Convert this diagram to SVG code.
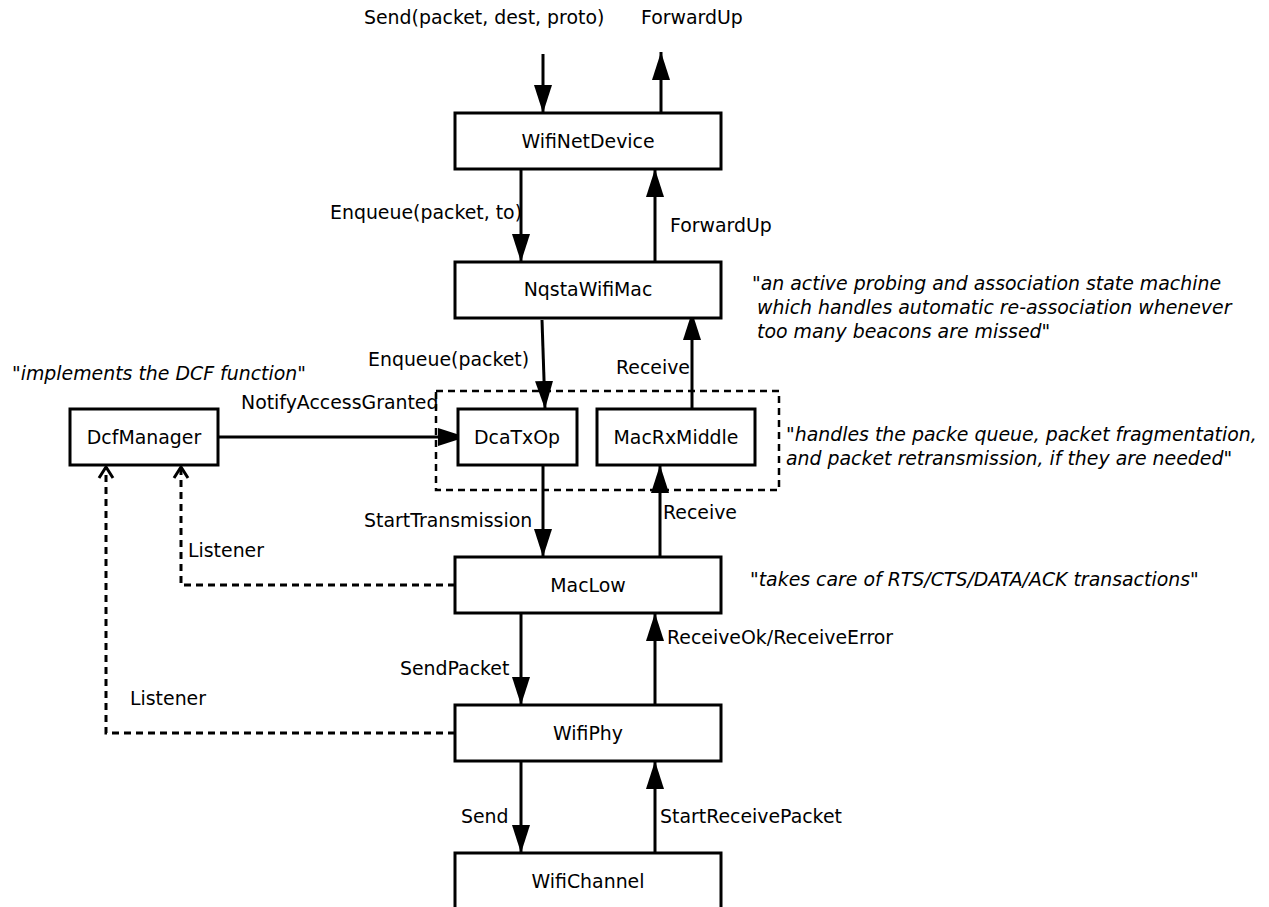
<svg xmlns="http://www.w3.org/2000/svg" width="1269" height="907" viewBox="0 0 1269 907">
<style>
text{font-family:"DejaVu Sans","Liberation Sans",sans-serif;font-size:18.9px;fill:#000}
.c{text-anchor:middle}
.i{font-style:italic}
.box{fill:#fff;stroke:#000;stroke-width:3}
.ln{fill:none;stroke:#000;stroke-width:3}
.dash{fill:none;stroke:#000;stroke-width:3;stroke-dasharray:7,5}
</style>
<defs>
<marker id="ah" markerUnits="userSpaceOnUse" viewBox="0 0 28 18" refX="28" refY="9" markerWidth="28" markerHeight="18" orient="auto">
<path d="M0,0 L28,9 L0,18 Z" fill="#000"/>
</marker>
<marker id="oh" markerUnits="userSpaceOnUse" viewBox="0 0 14 18" refX="12" refY="9" markerWidth="14" markerHeight="18" orient="auto">
<path d="M1,2 L12,9 L1,16" fill="none" stroke="#000" stroke-width="3"/>
</marker>
</defs>
<rect x="0" y="0" width="1269" height="907" fill="#fff"/>
<g id="connectors">
<line class="ln" x1="543" y1="54" x2="543" y2="113" marker-end="url(#ah)"/>
<line class="ln" x1="661" y1="113" x2="661" y2="52" marker-end="url(#ah)"/>
<line class="ln" x1="521" y1="169" x2="521" y2="262" marker-end="url(#ah)"/>
<line class="ln" x1="655" y1="262" x2="655" y2="169" marker-end="url(#ah)"/>
<line class="ln" x1="542" y1="320" x2="545" y2="409" marker-end="url(#ah)"/>
<line class="ln" x1="692" y1="409" x2="692" y2="312" marker-end="url(#ah)"/>
<line class="ln" x1="218" y1="437" x2="466" y2="437" marker-end="url(#ah)"/>
<line class="ln" x1="543" y1="465" x2="543" y2="557" marker-end="url(#ah)"/>
<line class="ln" x1="660" y1="557" x2="660" y2="465" marker-end="url(#ah)"/>
<line class="ln" x1="521" y1="613" x2="521" y2="705" marker-end="url(#ah)"/>
<line class="ln" x1="655" y1="705" x2="655" y2="613" marker-end="url(#ah)"/>
<line class="ln" x1="521" y1="761" x2="521" y2="853" marker-end="url(#ah)"/>
<line class="ln" x1="655" y1="853" x2="655" y2="761" marker-end="url(#ah)"/>
<polyline class="dash" points="455,585 181,585 181,467" marker-end="url(#oh)"/>
<polyline class="dash" points="455,733 106,733 106,467" marker-end="url(#oh)"/>
<rect x="436" y="391" width="343" height="99" fill="none" stroke="#000" stroke-width="2.5" stroke-dasharray="7,5"/>
</g>
<g id="WifiNetDevice"><rect class="box" x="455" y="113" width="266" height="56"/><text class="c" x="588" y="148">WifiNetDevice</text></g>
<g id="NqstaWifiMac"><rect class="box" x="455" y="262" width="266" height="56"/><text class="c" x="588" y="296">NqstaWifiMac</text></g>
<g id="DcfManager"><rect class="box" x="70" y="409" width="148" height="56"/><text class="c" x="144" y="444">DcfManager</text></g>
<g id="DcaTxOp"><rect class="box" x="458" y="409" width="119" height="56"/><text class="c" x="517" y="444">DcaTxOp</text></g>
<g id="MacRxMiddle"><rect class="box" x="597" y="409" width="158" height="56"/><text class="c" x="676" y="444">MacRxMiddle</text></g>
<g id="MacLow"><rect class="box" x="455" y="557" width="266" height="56"/><text class="c" x="588" y="592">MacLow</text></g>
<g id="WifiPhy"><rect class="box" x="455" y="705" width="266" height="56"/><text class="c" x="588" y="740">WifiPhy</text></g>
<g id="WifiChannel"><rect class="box" x="455" y="853" width="266" height="60"/><text class="c" x="588" y="888">WifiChannel</text></g>
<g id="labels">
<text x="364" y="24">Send(packet, dest, proto)</text>
<text x="641" y="24">ForwardUp</text>
<text x="330" y="219">Enqueue(packet, to)</text>
<text x="670" y="232">ForwardUp</text>
<text x="368" y="366">Enqueue(packet)</text>
<text x="616" y="374">Receive</text>
<text x="241" y="409">NotifyAccessGranted</text>
<text x="364" y="527">StartTransmission</text>
<text x="663" y="519">Receive</text>
<text x="188" y="557">Listener</text>
<text x="667" y="644">ReceiveOk/ReceiveError</text>
<text x="400" y="675">SendPacket</text>
<text x="130" y="705">Listener</text>
<text x="461" y="823">Send</text>
<text x="660" y="823">StartReceivePacket</text>
</g>
<g id="notes">
<text x="12" y="380">"<tspan class="i">implements the DCF function</tspan>"</text>
<text x="752" y="290">"<tspan class="i">an active probing and association state machine</tspan></text>
<text x="757" y="314" class="i">which handles automatic re-association whenever</text>
<text x="757" y="338"><tspan class="i">too many beacons are missed</tspan>"</text>
<text x="786" y="441">"<tspan class="i">handles the packe queue, packet fragmentation,</tspan></text>
<text x="786" y="465"><tspan class="i">and packet retransmission, if they are needed</tspan>"</text>
<text x="750" y="586">"<tspan class="i">takes care of RTS/CTS/DATA/ACK transactions</tspan>"</text>
</g>
</svg>
